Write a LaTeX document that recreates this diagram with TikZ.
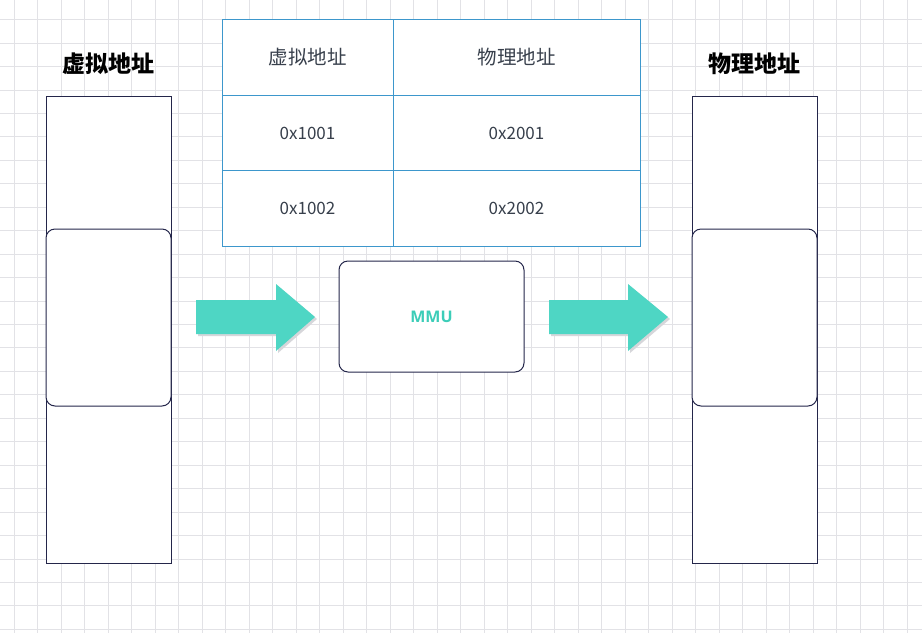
\documentclass[tikz,border=0pt]{standalone}
\usepackage{fontspec}
\setmainfont{Noto Sans}
\newfontfamily\cjk{Noto Sans CJK SC}
\newfontfamily\mmufont{Open Sans}
\definecolor{gridc}{HTML}{E2E2E6}
\definecolor{navy}{HTML}{24264A}
\definecolor{tblue}{HTML}{3D97CC}
\definecolor{txt}{HTML}{38404C}
\definecolor{teal}{HTML}{4ED6C4}
\definecolor{tealtext}{HTML}{3CCDB8}
\definecolor{shadowc}{HTML}{D6D6DA}
\tikzset{
  colbox/.style={draw=navy, line width=1pt, fill=white},
  slot/.style={draw=navy, line width=1pt, fill=white, rounded corners=9pt},
  cell/.style={draw=tblue, line width=1pt, fill=white, text=txt},
  cjkcell/.style={cell, font=\cjk\fontsize{19.5}{22}\selectfont},
  numcell/.style={cell, font=\cjk\fontsize{17}{20}\selectfont},
  title/.style={font=\cjk\bfseries\fontsize{23}{26}\selectfont, text=black},
  mmubox/.style={draw=navy, line width=1pt, fill=white, rounded corners=9pt, font=\mmufont\bfseries\fontsize{16}{18}\selectfont, text=tealtext},
  fatarrow/.style={fill=teal},
  fatshadow/.style={fill=shadowc}
}
\begin{document}
\begin{tikzpicture}[x=1pt,y=-1pt]
\useasboundingbox (0,0) rectangle (922,633);
\fill[white] (0,0) rectangle (922,633);
% grid
\foreach \i in {0,...,38} {\draw[gridc, line width=0.7pt] (14+23.5*\i,0) -- (14+23.5*\i,633);}
\foreach \j in {0,...,26} {\draw[gridc, line width=0.7pt] (0,19.5+23.45*\j) -- (922,19.5+23.45*\j);}

% left column
\node[colbox, minimum width=125pt, minimum height=467pt, inner sep=0pt] (vcol) at (108.5,329.5) {};
\node[slot, minimum width=125pt, minimum height=177pt, inner sep=0pt] (vslot) at (108.5,317.5) {};
\node[title] (vtitle) at (108.5,64) {虚拟地址};

% right column
\node[colbox, minimum width=125pt, minimum height=467pt, inner sep=0pt] (pcol) at (754.5,329.5) {};
\node[slot, minimum width=125pt, minimum height=177pt, inner sep=0pt] (pslot) at (754.5,317.5) {};
\node[title] (ptitle) at (754.5,64) {物理地址};

% table
\node[cjkcell, minimum width=171pt, minimum height=76pt, inner sep=0pt] (h1) at (307.5,57.5) {虚拟地址};
\node[cjkcell, minimum width=247pt, minimum height=76pt, inner sep=0pt] (h2) at (516.5,57.5) {物理地址};
\node[numcell, minimum width=171pt, minimum height=75pt, inner sep=0pt] (a1) at (307.5,133) {0x1001};
\node[numcell, minimum width=247pt, minimum height=75pt, inner sep=0pt] (b1) at (516.5,133) {0x2001};
\node[numcell, minimum width=171pt, minimum height=76pt, inner sep=0pt] (a2) at (307.5,208) {0x1002};
\node[numcell, minimum width=247pt, minimum height=76pt, inner sep=0pt] (b2) at (516.5,208) {0x2002};

% MMU
\node[mmubox, minimum width=185pt, minimum height=111pt, inner sep=0pt] (mmu) at (431.5,316.5) {MMU};

% arrows
\fill[fatshadow] (198,302) -- (278,302) -- (278,286) -- (317,319) -- (278,353) -- (278,336) -- (198,336) -- cycle;
\fill[fatarrow] (196,300) -- (276,300) -- (276,284) -- (315,317) -- (276,351) -- (276,334) -- (196,334) -- cycle;
\fill[fatshadow] (551,302) -- (630,302) -- (630,286) -- (670,319) -- (630,353) -- (630,336) -- (551,336) -- cycle;
\fill[fatarrow] (549,300) -- (628,300) -- (628,284) -- (668,317) -- (628,351) -- (628,334) -- (549,334) -- cycle;
\end{tikzpicture}
\end{document}
